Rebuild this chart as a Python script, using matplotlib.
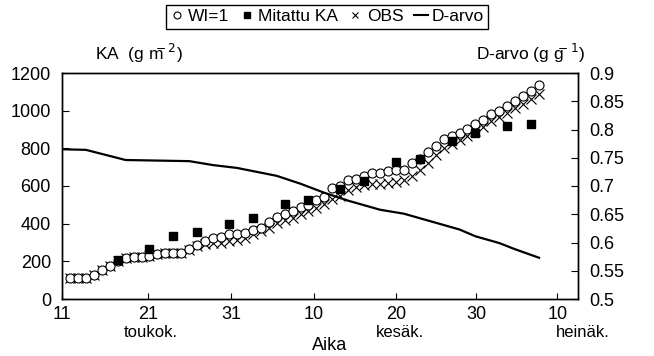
import matplotlib.pyplot as plt
from matplotlib.lines import Line2D

plt.rcParams['font.family'] = ['Liberation Sans', 'DejaVu Sans']
plt.rcParams['font.size'] = 13

# days counted from 11 May
days = list(range(60))

# WI=1 simulated dry matter (g m-2)
wi1 = [112, 112, 112, 127, 154, 175, 202, 218, 223, 223,
       228, 239, 244, 244, 244, 265, 285, 308, 324, 329,
       345, 345, 350, 366, 377, 409, 435, 451, 467, 488,
       499, 526, 542, 589, 600, 632, 637, 653, 669, 669,
       680, 685, 685, 722, 743, 780, 812, 850, 866, 881,
       903, 929, 950, 982, 998, 1025, 1051, 1078, 1104, 1136]

# OBS simulated dry matter (g m-2)
obs = [112, 112, 112, 127, 154, 175, 202, 218, 223, 223,
       228, 239, 244, 244, 244, 262, 281, 292, 297, 297,
       308, 313, 324, 345, 361, 377, 404, 419, 430, 451,
       467, 483, 504, 531, 547, 580, 595, 605, 610, 612,
       615, 620, 630, 655, 685, 720, 765, 800, 825, 845,
       865, 890, 915, 945, 965, 990, 1012, 1035, 1060, 1090]

# measured dry matter
meas_days = [6, 10, 13, 16, 20, 23, 27, 30, 34, 37, 41, 44, 48, 51, 55, 58]
meas_ka = [205, 267, 335, 356, 398, 430, 504, 526, 584, 627,
           727, 743, 839, 881, 919, 929]

# D-value (g g-1)
d_days = [-1, 2, 7, 11, 15, 18, 21, 26, 29, 32, 35, 37, 39, 42, 44,
          46, 49, 51, 54, 56, 59]
d_value = [0.765, 0.764, 0.746, 0.745, 0.744, 0.737, 0.732, 0.718, 0.704,
           0.688, 0.674, 0.666, 0.658, 0.651, 0.643, 0.635, 0.623, 0.611,
           0.599, 0.588, 0.573]

# date labels and where they sit on the day axis
tick_days = [-1, 9.8, 20.3, 30.7, 41, 51.1, 61.3]
tick_labels = ['11', '21', '31', '10', '20', '30', '10']
month_days = [10.2, 41.5, 64.5]
month_labels = ['toukok.', 'kesäk.', 'heinäk.']

fig = plt.figure(figsize=(6.54, 3.56), dpi=100)
ax = fig.add_axes([62 / 654, 57 / 356, 516 / 654, 226 / 356])
ax2 = ax.twinx()

ax.plot(days, wi1, 'o', mfc='white', mec='black', ms=6.5, mew=0.8, zorder=3)
ax.plot(meas_days, meas_ka, 's', color='black', ms=5.5, zorder=4)
ax.plot(days, obs, 'x', color='black', ms=6.5, mew=0.8, zorder=2)
ax2.plot(d_days, d_value, '-', color='black', lw=1.6)

ax.set_xlim(-1.0, 63.9)
ax.set_ylim(0, 1200)
ax.set_yticks(range(0, 1201, 200))
ax2.set_ylim(0.5, 0.9)
ax2.set_yticks([0.5, 0.55, 0.6, 0.65, 0.7, 0.75, 0.8, 0.85, 0.9])
ax2.set_yticklabels(['0.5', '0.55', '0.6', '0.65', '0.7', '0.75', '0.8', '0.85', '0.9'])

ax.set_xticks(tick_days)
ax.set_xticklabels(tick_labels)
ax.tick_params(axis='x', direction='in', length=4, pad=5)
ax.tick_params(axis='y', direction='in', length=5, pad=8)
ax2.tick_params(axis='y', direction='in', length=5, pad=8)
for a in (ax, ax2):
    for s in a.spines.values():
        s.set_linewidth(1.0)

for d, m in zip(month_days, month_labels):
    ax.text(d, -0.115, m, transform=ax.get_xaxis_transform(),
            ha='center', va='top', fontsize=12, clip_on=False)
fig.text(330 / 654, 2 / 356, 'Aika', ha='center', va='bottom', fontsize=13)

# unit exponents sit over the last letter
fig.text(95 / 654, 291 / 356, r'KA  (g m$^{\!\!\!\!\!-2}$)', ha='left', va='bottom', fontsize=12.5)
fig.text(585 / 654, 291 / 356, r'D-arvo (g g$^{\!\!\!\!-1}$)', ha='right', va='bottom', fontsize=12.5)

handles = [
    Line2D([], [], marker='o', ls='none', mfc='white', mec='black', ms=5, mew=0.8),
    Line2D([], [], marker='s', ls='none', color='black', ms=4.5),
    Line2D([], [], marker='x', ls='none', color='black', ms=5, mew=0.8),
    Line2D([], [], ls='-', color='black', lw=1.5),
]
fig.legend(handles, ['WI=1', 'Mitattu KA', 'OBS', 'D-arvo'],
           loc='upper center', bbox_to_anchor=(327 / 654, 1 - 5 / 356), ncol=4,
           frameon=True, fancybox=False, edgecolor='black', framealpha=1,
           handlelength=0.8, handletextpad=0.25, columnspacing=0.6,
           borderpad=0.25, borderaxespad=0, fontsize=12.5)

fig.savefig('out.png', dpi=100)
